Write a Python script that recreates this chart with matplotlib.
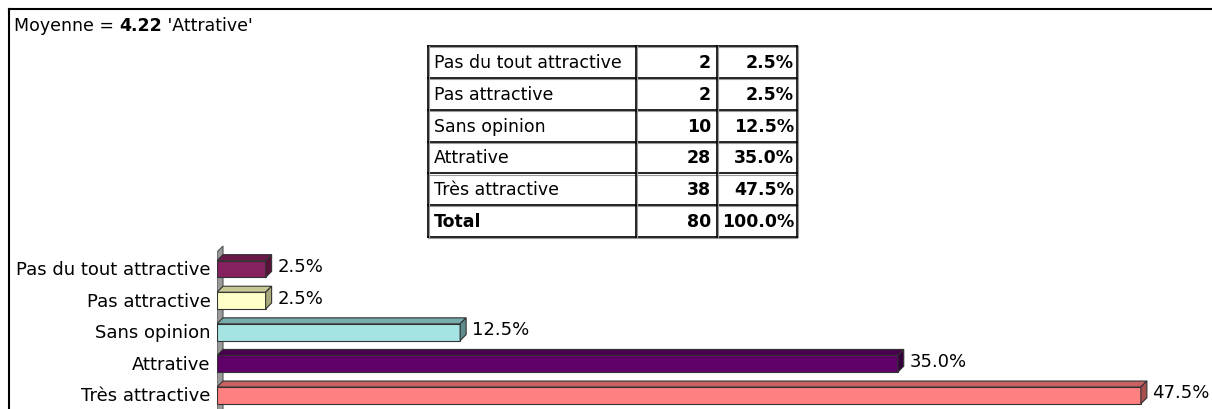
import matplotlib
matplotlib.use('Agg')
import matplotlib.pyplot as plt
from matplotlib.patches import Polygon
from matplotlib.lines import Line2D

plt.rcParams['font.family'] = ['DejaVu Sans']

# data
categories = ['Pas du tout attractive', 'Pas attractive', 'Sans opinion',
              'Attrative', 'Très attractive']
counts = [2, 2, 10, 28, 38]
percents = [2.5, 2.5, 12.5, 35.0, 47.5]
total_count = 80
total_pct = 100.0
mean_value = 4.22
mean_label = 'Attrative'

FACE = ['#86205e', '#ffffc8', '#a6e3e3', '#5f0068', '#ff8080']
TOP = ['#6a1848', '#c8c894', '#78acac', '#46004e', '#c86262']
SIDE = ['#561238', '#a8a878', '#5e8c8c', '#36003c', '#a85050']

W, H = 1212, 410
fig = plt.figure(figsize=(W / 100, H / 100), dpi=100)

# overlay in pixel coords for frame, heading and table
ov = fig.add_axes([0, 0, 1, 1])
ov.set_xlim(0, W)
ov.set_ylim(H, 0)
ov.axis('off')

ov.add_line(Line2D([9, W], [10, 10], color='black', lw=1.5))
ov.add_line(Line2D([9, 9], [10, H], color='black', lw=1.5))

# heading with bold mean
fs_head = 12.5
fig.canvas.draw()
renderer = fig.canvas.get_renderer()
x = 14
for txt, weight in [('Moyenne = ', 'normal'), (f'{mean_value:.2f}', 'bold'),
                    (f" '{mean_label}'", 'normal')]:
    t = ov.text(x, 26, txt, fontsize=fs_head, fontweight=weight,
                ha='left', va='center')
    bb = t.get_window_extent(renderer=renderer)
    x += bb.width

# table
col_x = [428, 636, 717, 797]
top_y, bot_y = 47, 238
rows = [(c, str(n), f'{p:.1f}%') for c, n, p in zip(categories, counts, percents)]
rows.append(('Total', str(total_count), f'{total_pct:.1f}%'))
rh = (bot_y - top_y) / len(rows)
fs_tab = 12.5
for r, (lab, n, p) in enumerate(rows):
    yc = top_y + rh * (r + 0.5)
    last = r == len(rows) - 1
    ov.text(col_x[0] + 6, yc, lab, fontsize=fs_tab, ha='left', va='center',
            fontweight='bold' if last else 'normal')
    ov.text(col_x[2] - 6, yc, n, fontsize=fs_tab, ha='right', va='center',
            fontweight='bold')
    ov.text(col_x[3] - 3, yc, p, fontsize=fs_tab, ha='right', va='center',
            fontweight='bold')
for r in range(len(rows) + 1):
    y = top_y + rh * r
    ov.add_line(Line2D([col_x[0], col_x[-1]], [y + 1.2, y + 1.2], color='#999999', lw=0.8))
    ov.add_line(Line2D([col_x[0], col_x[-1]], [y, y], color='black', lw=1.2))
for cx in col_x:
    ov.add_line(Line2D([cx + 1.2, cx + 1.2], [top_y, bot_y], color='#999999', lw=0.8))
    ov.add_line(Line2D([cx, cx], [top_y, bot_y], color='black', lw=1.2))

# bar chart
fs = 13
px_per_pct = 19.45
row_px = 31.6
ax_left, ax_top = 217, 245
ax = fig.add_axes([ax_left / W, 0, (W - ax_left) / W, (H - ax_top) / H])
ax.set_xlim(0, (W - ax_left) / px_per_pct)
ax.set_ylim((H - 270) / row_px, -(270 - ax_top) / row_px)
ax.patch.set_alpha(0)
for s in ax.spines.values():
    s.set_visible(False)
ax.xaxis.set_visible(False)

dx = 6 / px_per_pct
dy = 6 / row_px
bh = 0.53
ypos = list(range(len(categories)))

# back wall
wall_top = -(270 - 253) / row_px
ax.add_patch(Polygon([(0, 6), (0, wall_top), (dx, wall_top - dy), (dx, 6 - dy)],
                     closed=True, facecolor='#9a9a9a', edgecolor='#555555',
                     lw=0.8, zorder=1))

ax.barh(ypos, percents, height=bh, color=FACE, edgecolor='#333333',
        linewidth=0.8, zorder=3)
for i, v in enumerate(percents):
    yt = i - bh / 2
    yb = i + bh / 2
    ax.add_patch(Polygon([(0, yt), (dx, yt - dy), (v + dx, yt - dy), (v, yt)],
                         closed=True, facecolor=TOP[i], edgecolor='#333333',
                         lw=0.8, zorder=3))
    ax.add_patch(Polygon([(v, yt), (v + dx, yt - dy), (v + dx, yb - dy), (v, yb)],
                         closed=True, facecolor=SIDE[i], edgecolor='#333333',
                         lw=0.8, zorder=3))
    ax.annotate(f'{v:.1f}%', xy=(v + dx, i - dy / 2), xytext=(4, 0),
                textcoords='offset points', ha='left', va='center',
                fontsize=fs, annotation_clip=False)

ax.set_yticks(ypos)
ax.set_yticklabels(categories, fontsize=fs, va='center')
ax.tick_params(axis='y', length=0, pad=4.5)

fig.savefig('out.png', dpi=100)
